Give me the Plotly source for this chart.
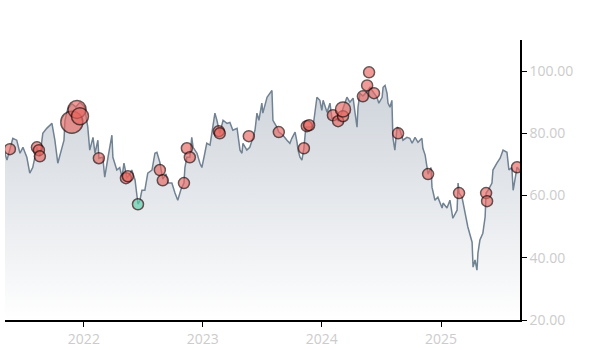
import plotly.graph_objects as go

# Price series
dates = [
    "2021-05-04", "2021-05-10", "2021-05-19", "2021-05-28", "2021-06-09", "2021-06-19", "2021-06-28",
    "2021-07-10", "2021-07-19", "2021-07-28", "2021-08-10", "2021-08-19", "2021-08-28", "2021-09-09",
    "2021-09-25", "2021-10-04", "2021-10-13", "2021-10-25", "2021-11-01", "2021-11-04", "2021-11-13",
    "2021-11-25", "2021-12-07", "2021-12-20", "2022-01-03", "2022-01-13", "2022-01-19", "2022-01-29",
    "2022-02-04", "2022-02-13", "2022-02-16", "2022-02-28", "2022-03-06", "2022-03-16", "2022-03-28",
    "2022-03-31", "2022-04-12", "2022-04-21", "2022-04-28", "2022-05-04", "2022-05-13", "2022-05-22",
    "2022-05-28", "2022-06-07", "2022-06-13", "2022-06-16", "2022-06-22", "2022-06-28", "2022-07-07",
    "2022-07-16", "2022-07-29", "2022-08-07", "2022-08-13", "2022-08-22", "2022-08-31", "2022-09-10",
    "2022-09-16", "2022-09-28", "2022-10-07", "2022-10-16", "2022-10-26", "2022-11-04", "2022-11-07",
    "2022-11-13", "2022-11-22", "2022-11-28", "2022-12-02", "2022-12-14", "2022-12-23", "2022-12-29",
    "2023-01-07", "2023-01-13", "2023-01-23", "2023-02-01", "2023-02-07", "2023-02-13", "2023-02-22",
    "2023-03-04", "2023-03-16", "2023-03-25", "2023-04-03", "2023-04-16", "2023-04-25", "2023-05-01",
    "2023-05-04", "2023-05-16", "2023-05-25", "2023-06-04", "2023-06-10", "2023-06-16", "2023-06-22",
    "2023-07-01", "2023-07-04", "2023-07-17", "2023-07-26", "2023-08-01", "2023-08-04", "2023-08-10",
    "2023-08-16", "2023-08-22", "2023-09-04", "2023-09-16", "2023-09-25", "2023-10-01", "2023-10-11",
    "2023-10-17", "2023-10-20", "2023-10-26", "2023-11-01", "2023-11-07", "2023-11-13", "2023-11-26",
    "2023-12-05", "2023-12-17", "2023-12-26", "2024-01-01", "2024-01-05", "2024-01-17", "2024-01-26",
    "2024-02-01", "2024-02-10", "2024-02-20", "2024-02-26", "2024-03-06", "2024-03-18", "2024-03-27",
    "2024-04-06", "2024-04-12", "2024-04-18", "2024-04-21", "2024-04-27", "2024-05-06", "2024-05-15",
    "2024-05-28", "2024-06-09", "2024-06-18", "2024-06-24", "2024-07-04", "2024-07-07", "2024-07-13",
    "2024-07-19", "2024-07-22", "2024-07-28", "2024-08-03", "2024-08-06", "2024-08-12", "2024-08-19",
    "2024-08-28", "2024-09-06", "2024-09-18", "2024-09-27", "2024-10-04", "2024-10-13", "2024-10-22",
    "2024-11-03", "2024-11-06", "2024-11-13", "2024-11-19", "2024-11-22", "2024-12-01", "2024-12-04",
    "2024-12-13", "2024-12-22", "2025-01-04", "2025-01-07", "2025-01-19", "2025-01-28", "2025-02-06",
    "2025-02-19", "2025-02-22", "2025-02-25", "2025-03-06", "2025-03-15", "2025-03-21", "2025-03-24",
    "2025-04-06", "2025-04-09", "2025-04-15", "2025-04-21", "2025-04-24", "2025-04-30", "2025-05-09",
    "2025-05-16", "2025-05-19", "2025-05-25", "2025-06-06", "2025-06-09", "2025-06-21", "2025-07-01",
    "2025-07-10", "2025-07-22", "2025-07-28", "2025-08-06", "2025-08-10", "2025-08-16", "2025-08-22",
    "2025-08-31",
]
prices = [
    73.6, 71.4, 74.9, 78.4, 77.8, 73.6, 75.5,
    72.3, 67.2, 69.0, 75.5, 72.6, 80.0, 81.6,
    83.2, 77.8, 70.4, 75.5, 77.8, 84.2, 88.0,
    89.5, 88.5, 90.0, 88.5, 82.0, 74.6, 78.7,
    73.6, 77.8, 72.0, 72.3, 65.9, 72.3, 79.4,
    72.3, 68.2, 69.0, 65.9, 70.4, 65.6, 67.0,
    68.2, 65.0, 60.8, 57.2, 58.5, 61.7, 61.7,
    67.2, 68.2, 73.6, 73.9, 70.7, 65.3, 67.0,
    64.0, 64.0, 61.0, 58.5, 62.0, 64.0, 69.0,
    72.3, 72.3, 78.7, 75.5, 73.6, 70.4, 69.0,
    73.6, 76.8, 76.2, 82.0, 86.5, 84.2, 80.0,
    84.2, 83.2, 83.5, 81.0, 81.6, 74.6, 73.6,
    76.8, 74.6, 75.5, 78.7, 81.0, 86.5, 84.2,
    89.7, 86.5, 91.6, 92.9, 93.8, 84.2, 83.2,
    82.0, 80.4, 79.4, 77.8, 76.8, 78.4, 80.4,
    77.1, 74.6, 72.3, 71.4, 75.2, 82.0, 82.0,
    82.0, 91.6, 90.6, 87.4, 90.6, 86.8, 89.7,
    84.8, 85.0, 84.0, 85.2, 88.0, 91.6, 90.0,
    91.3, 86.5, 82.0, 88.4, 92.9, 92.0, 93.0,
    94.8, 92.9, 91.6, 89.7, 91.6, 94.8, 95.4,
    92.9, 89.7, 88.4, 90.6, 78.7, 74.6, 82.0,
    81.0, 77.8, 78.7, 78.4, 76.8, 78.7, 77.1,
    78.4, 75.2, 73.0, 69.0, 66.9, 69.0, 62.7,
    58.5, 59.5, 56.0, 57.6, 56.0, 58.5, 52.7,
    55.3, 64.0, 60.8, 59.5, 54.3, 52.1, 49.9,
    45.0, 37.0, 39.3, 36.0, 41.5, 45.7, 47.9,
    53.1, 60.8, 61.7, 64.0, 68.2, 70.4, 72.0,
    74.6, 73.9, 68.2, 69.0, 61.7, 65.9, 69.1,
    68.0,
]

# Event markers
event_dates = [
    "2021-05-19", "2021-08-10", "2021-08-16", "2021-08-19",
    "2021-11-25", "2021-12-11", "2021-12-20",
    "2022-02-16", "2022-05-10", "2022-05-16", "2022-06-16",
    "2022-08-22", "2022-08-31", "2022-11-04", "2022-11-13", "2022-11-22",
    "2023-02-19", "2023-02-22", "2023-05-22", "2023-08-22",
    "2023-11-07", "2023-11-16", "2023-11-23",
    "2024-02-04", "2024-02-20", "2024-03-06", "2024-03-06",
    "2024-05-06", "2024-05-19", "2024-05-25", "2024-06-09",
    "2024-08-22", "2024-11-22", "2025-02-25", "2025-05-19", "2025-05-22", "2025-08-22",
]
event_values = [
    74.9, 75.5, 74.6, 72.6,
    83.6, 87.7, 85.5,
    72.0, 65.6, 66.2, 57.2,
    68.2, 64.9, 64.0, 75.2, 72.3,
    80.7, 80.0, 79.1, 80.4,
    75.2, 82.3, 82.6,
    85.8, 83.9, 85.5, 87.7,
    91.9, 95.4, 99.6, 92.9,
    80.0, 66.9, 60.8, 60.8, 58.2, 69.1,
]
event_sizes = [
    11, 11, 11, 11,
    22, 18, 17,
    11, 11, 11, 11,
    11, 11, 11, 11, 11,
    11, 11, 11, 11,
    11, 11, 11,
    11, 11, 11, 15,
    11, 11, 11, 11,
    11, 11, 11, 11, 11, 11,
]
event_kind = [
    "sell", "sell", "sell", "sell",
    "sell", "sell", "sell",
    "sell", "sell", "sell", "buy",
    "sell", "sell", "sell", "sell", "sell",
    "sell", "sell", "sell", "sell",
    "sell", "sell", "sell",
    "sell", "sell", "sell", "sell",
    "sell", "sell", "sell", "sell",
    "sell", "sell", "sell", "sell", "sell", "sell",
]

kind_colors = {"sell": "rgba(232,102,96,0.92)", "buy": "rgba(94,208,172,0.95)"}

fig = go.Figure()
fig.add_trace(go.Scatter(
    x=dates, y=prices, mode="lines",
    line=dict(color="#718293", width=1.5),
    fill="tozeroy",
    fillgradient=dict(
        type="vertical",
        start=20, stop=100,
        colorscale=[[0, "rgba(255,255,255,1)"], [0.5, "rgba(228,231,235,1)"], [1, "rgba(204,210,217,1)"]],
    ),
    hoverinfo="skip", showlegend=False,
))
fig.add_trace(go.Scatter(
    x=event_dates, y=event_values, mode="markers",
    marker=dict(
        size=event_sizes,
        color=[kind_colors[k] for k in event_kind],
        line=dict(color="#2a0c0c", width=1.5),
    ),
    showlegend=False,
))

tick_font = dict(family="Open Sans, sans-serif", size=14, color="#cccccc")
fig.update_layout(
    width=600, height=350,
    margin=dict(l=5, r=80, t=40, b=30, autoexpand=False),
    paper_bgcolor="white", plot_bgcolor="white",
    showlegend=False,
    xaxis=dict(
        range=["2021-05-04", "2025-08-31"],
        automargin=False,
        showgrid=False, zeroline=False,
        showline=True, linecolor="black", linewidth=1.5,
        ticks="outside", tickcolor="black", ticklen=5, tickwidth=1,
        tick0="2022-01-01", dtick="M12", tickformat="%Y",
        tickfont=tick_font,
    ),
    yaxis=dict(
        range=[20, 110], side="right",
        automargin=False,
        showgrid=False, zeroline=False,
        showline=True, linecolor="black", linewidth=1.5,
        ticks="outside", tickcolor="black", ticklen=5, tickwidth=1,
        tickvals=[20, 40, 60, 80, 100], tickformat=".2f",
        tickfont=tick_font,
    ),
)

fig.write_html("out.html")
